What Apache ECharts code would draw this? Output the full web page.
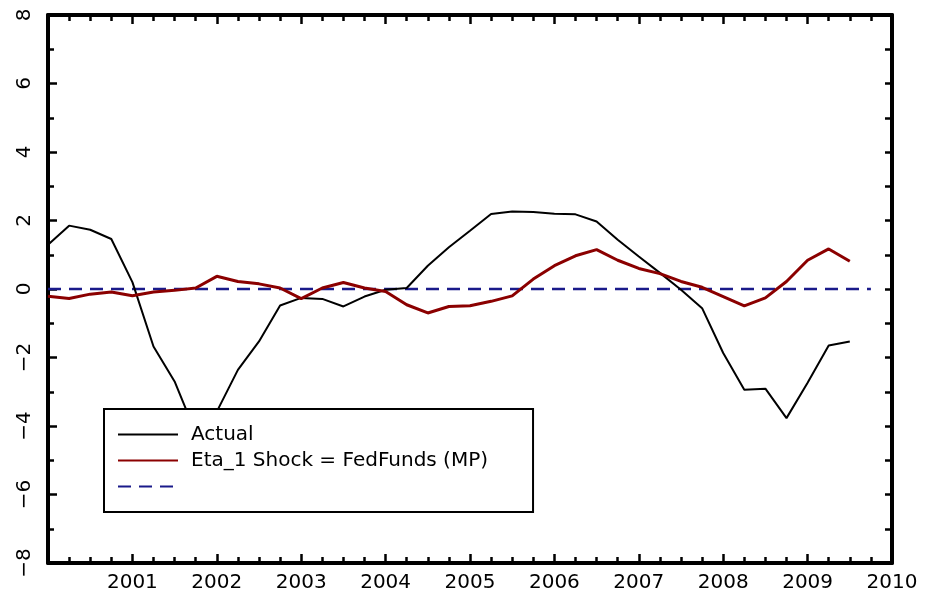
<!DOCTYPE html>
<html>
<head>
<meta charset="utf-8">
<script src="https://cdn.jsdelivr.net/npm/echarts@6/dist/echarts.min.js"></script>
<style>
html,body{margin:0;padding:0;background:#fff;}
#chart{width:937px;height:597px;}
</style>
</head>
<body>
<div id="chart"></div>
<script>
// Quarters (2000Q1 .. 2009Q3)
const quarters = ['2000Q1','2000Q2','2000Q3','2000Q4','2001Q1','2001Q2','2001Q3','2001Q4',
  '2002Q1','2002Q2','2002Q3','2002Q4','2003Q1','2003Q2','2003Q3','2003Q4',
  '2004Q1','2004Q2','2004Q3','2004Q4','2005Q1','2005Q2','2005Q3','2005Q4',
  '2006Q1','2006Q2','2006Q3','2006Q4','2007Q1','2007Q2','2007Q3','2007Q4',
  '2008Q1','2008Q2','2008Q3','2008Q4','2009Q1','2009Q2','2009Q3'];
const actual = [1.29,1.85,1.73,1.46,0.20,-1.68,-2.70,-4.20,
  -3.58,-2.36,-1.53,-0.48,-0.26,-0.29,-0.51,-0.22,
  -0.02,0.03,0.68,1.22,1.70,2.19,2.26,2.25,
  2.20,2.18,1.97,1.44,0.95,0.47,-0.02,-0.56,
  -1.87,-2.94,-2.91,-3.77,-2.74,-1.65,-1.53];
const shock = [-0.21,-0.28,-0.15,-0.09,-0.20,-0.09,-0.04,0.03,
  0.37,0.22,0.15,0.03,-0.28,0.03,0.19,0.03,
  -0.07,-0.46,-0.70,-0.51,-0.49,-0.36,-0.20,0.29,
  0.68,0.97,1.15,0.84,0.60,0.45,0.22,0.05,
  -0.22,-0.49,-0.26,0.22,0.84,1.17,0.81];
const baselineQuarters = ['2000Q1','2009Q4'];
const baselineValues = [0, 0];
const seriesNames = ['Actual','Eta_1 Shock = FedFunds (MP)',' '];
const yTickLabels = {'-8':'\u22128','-6':'\u22126','-4':'\u22124','-2':'\u22122','0':'0','2':'2','4':'4','6':'6','8':'8'};
const xTickLabels = {2001:'2001',2002:'2002',2003:'2003',2004:'2004',2005:'2005',2006:'2006',2007:'2007',2008:'2008',2009:'2009',2010:'2010'};

function qToYear(q){ return parseInt(q.slice(0,4),10) + (parseInt(q.slice(5),10)-1)/4; }
function pairs(qs, vs){ return qs.map((q,i)=>[qToYear(q), vs[i]]); }

const FONT = 'DejaVu Sans';
const chart = echarts.init(document.getElementById('chart'), null, {renderer:'canvas'});
const axisLine = {show:true, onZero:false, lineStyle:{color:'#000', width:4}};
const tickStyle = {color:'#000', width:2.5};
chart.setOption({
  animation:false,
  backgroundColor:'#fff',
  grid:{left:48, right:45, top:15, bottom:34, containLabel:false},
  xAxis:[{
    type:'value', min:2000, max:2010, interval:1, position:'bottom',
    axisLine:axisLine,
    axisTick:{show:true, inside:true, length:9, lineStyle:tickStyle},
    minorTick:{show:true, splitNumber:4, length:6, lineStyle:tickStyle},
    splitLine:{show:false}, minorSplitLine:{show:false},
    axisLabel:{show:true, margin:10, color:'#000', fontFamily:FONT, fontSize:20,
      formatter:v=>xTickLabels[Math.round(v)]||''}
  },{
    type:'value', min:2000, max:2010, interval:1, position:'top',
    axisLine:axisLine,
    axisTick:{show:true, inside:true, length:9, lineStyle:tickStyle},
    minorTick:{show:true, splitNumber:4, length:6, lineStyle:tickStyle},
    splitLine:{show:false}, axisLabel:{show:false}
  }],
  yAxis:[{
    type:'value', min:-8, max:8, interval:2, position:'left',
    axisLine:axisLine,
    axisTick:{show:true, inside:true, length:9, lineStyle:tickStyle},
    minorTick:{show:true, splitNumber:2, length:6, lineStyle:tickStyle},
    splitLine:{show:false}, minorSplitLine:{show:false},
    axisLabel:{show:true, rotate:90, margin:13, color:'#000', fontFamily:FONT, fontSize:20,
      formatter:v=>yTickLabels[String(Math.round(v))]||''}
  },{
    type:'value', min:-8, max:8, interval:2, position:'right',
    axisLine:axisLine,
    axisTick:{show:true, inside:true, length:7, lineStyle:tickStyle},
    minorTick:{show:true, splitNumber:2, length:7, lineStyle:tickStyle},
    splitLine:{show:false}, axisLabel:{show:false}
  }],
  legend:{
    show:true, orient:'vertical', left:104, top:409,
    data:seriesNames.map(n=>({name:n, itemStyle:{opacity:0}})),
    backgroundColor:'#fff', borderColor:'#000', borderWidth:2, borderRadius:0,
    padding:[15,45,15,13],
    itemWidth:60, itemHeight:14, itemGap:5,
    selectedMode:false,
    textStyle:{color:'#000', fontFamily:FONT, fontSize:20, lineHeight:21, padding:[0,0,0,8]}
  },
  series:[{
    name:seriesNames[0], type:'line', data:pairs(quarters, actual),
    showSymbol:false, symbol:'none', z:3,
    lineStyle:{color:'#000', width:2}, itemStyle:{color:'#000'}
  },{
    name:seriesNames[1], type:'line', data:pairs(quarters, shock),
    showSymbol:false, symbol:'none', z:4,
    lineStyle:{color:'#8b0000', width:3}, itemStyle:{color:'#8b0000'}
  },{
    name:seriesNames[2], type:'line', data:pairs(baselineQuarters, baselineValues),
    showSymbol:false, symbol:'none', z:2,
    lineStyle:{color:'#1a1a8a', width:2.5, type:[13,8]}, itemStyle:{color:'#1a1a8a'}
  }]
});
</script>
</body>
</html>
